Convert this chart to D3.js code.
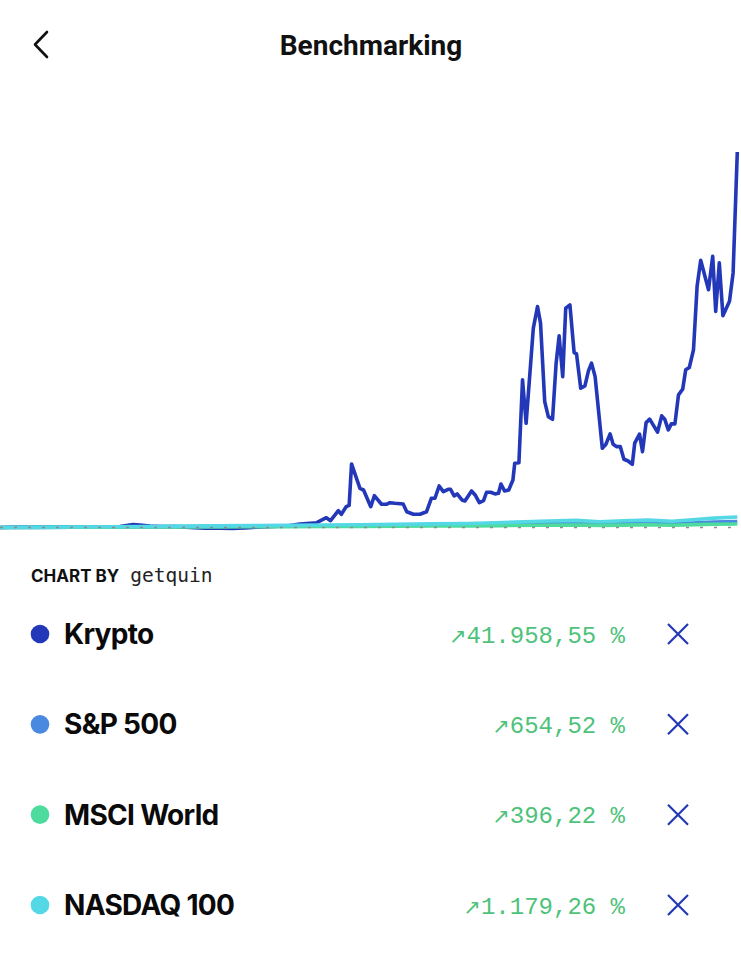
<!DOCTYPE html>
<html>
<head>
<meta charset="utf-8">
<script src="https://cdn.jsdelivr.net/npm/d3@7"></script>
<style>
  html, body { margin: 0; padding: 0; background: #fff; }
  svg { display: block; }
</style>
</head>
<body>
<div id="chartWrap"></div>
<script>
// ---- data (months since start, cumulative return in %) ----
const kryptoMonths = [0, 3.3, 6.7, 10, 13.3, 16.7, 20, 22.2, 23.3, 25, 26.7, 29.2, 31.7, 34.2, 36.7, 38.7, 40.8, 43.3, 45.8, 48.3,
  50, 52.8, 54.4, 55.1, 56.4, 56.9, 57.7, 58.2, 58.6, 60, 60.6, 61.8, 62.4, 63.6, 64.4, 65, 65.8, 67.2, 67.8, 68.9,
  70, 71.1, 71.9, 72.5, 73.2, 73.9, 74.7, 75.1, 75.7, 76.2, 77, 77.5, 78.6, 79.2, 79.9, 80.6, 81.1, 81.8, 82.5, 83.1,
  83.5, 84.1, 84.8, 85.5, 85.8, 86.5, 87.1, 87.7, 88.9, 89.6, 90.1, 90.8, 91.4, 92.1, 92.7, 93.2, 93.8, 94.3, 95, 95.7,
  96.1, 96.8, 97.5, 98.1, 98.6, 99.2, 100.4, 101, 101.7, 102.2, 102.8, 103.4, 104, 104.7, 105.4, 105.8, 106.6, 107.1, 107.7, 108.3,
  109.6, 110.3, 110.8, 111.4, 111.9, 112.5, 113.1, 113.8, 114.3, 114.9, 115.6, 116.2, 116.8, 118.1, 118.8, 119.3, 119.9, 120.5, 121.6, 122.2,
  122.9];
const kryptoPct = [0, 50, 50, 60, 50, 60, 110, 335, 280, 170, 110, 110, 0, -80, -80, -120, -40, 60, 110, 220,
  390, 535, 1095, 760, 1880, 1475, 2325, 2480, 7100, 4380, 4190, 2325, 3555, 2595, 2595, 2775, 2705, 2630, 1765, 1475,
  1475, 1765, 3265, 3265, 4640, 4005, 4270, 4270, 3525, 3750, 3075, 2965, 4085, 3635, 2775, 3000, 3940, 3940, 3750, 3825,
  4865, 4085, 4195, 5315, 7180, 7250, 16495, 11650, 22270, 24685, 22830, 14065, 12390, 12095, 18360, 21410, 16860, 24505, 24875, 19545,
  19400, 15565, 15820, 17530, 18360, 16860, 8855, 9300, 10455, 9300, 9035, 9035, 7625, 7435, 7065, 9420, 10430, 8480, 11725, 12105,
  10650, 12475, 12105, 10905, 11580, 11580, 14825, 15465, 17625, 17880, 19860, 26945, 29855, 26575, 30300, 24150, 29565, 23670, 25270, 28445,
  41958.55];

const indexMonths = [0, 6, 12, 18, 24, 30, 36, 42, 48, 54, 60, 66, 72, 78, 84, 90, 96, 100, 104, 108, 112, 116, 119, 122.9];
const sp500Pct = [0, 15, 40, 60, 75, 100, 120, 140, 160, 180, 195, 230, 260, 290, 350, 420, 470, 390, 450, 490, 420, 520, 600, 654.52];
const msciPct = [0, 10, 25, 40, 50, 65, 75, 85, 95, 110, 120, 140, 160, 180, 215, 255, 285, 240, 270, 300, 250, 320, 365, 396.22];
const nasdaqPct = [0, 20, 60, 90, 110, 150, 180, 210, 240, 280, 300, 360, 400, 450, 560, 700, 800, 640, 760, 820, 700, 900, 1050, 1179.26];

const seriesNames = ['Krypto', 'S&P 500', 'MSCI World', 'NASDAQ 100'];
const seriesColors = ['#2338b8', '#4a89e0', '#4edc9e', '#54d8e6'];
const seriesReturns = ['41.958,55', '654,52', '396,22', '1.179,26'];

// ---- layout ----
const W = 741, H = 960;
const svg = d3.select('#chartWrap').append('svg')
  .attr('width', W).attr('height', H);

// header
svg.append('path')
  .attr('d', d3.line()([[47, 32], [35, 44.5], [47, 57]]))
  .attr('fill', 'none').attr('stroke', '#111').attr('stroke-width', 2.6)
  .attr('stroke-linecap', 'round').attr('stroke-linejoin', 'round');
svg.append('text')
  .attr('x', 371).attr('y', 55)
  .attr('text-anchor', 'middle')
  .style('font-family', 'Roboto, Inter, sans-serif')
  .style('font-weight', 700)
  .style('font-size', '28px')
  .style('fill', '#111')
  .text('Benchmarking');

// scales
const x = d3.scaleLinear().domain([0, 122.9]).range([0, 737.3]);
const y = d3.scaleLinear().domain([0, 41958.55]).range([527.5, 152]);

const line = d3.line()
  .x((d) => x(d[0]))
  .y((d) => y(d[1]))
  .curve(d3.curveLinear);

const seriesData = [
  d3.zip(kryptoMonths, kryptoPct),
  d3.zip(indexMonths, sp500Pct),
  d3.zip(indexMonths, msciPct),
  d3.zip(indexMonths, nasdaqPct),
];

const lines = svg.append('g');
seriesData.forEach((data, i) => {
  lines.append('path')
    .datum(data)
    .attr('d', line)
    .attr('fill', 'none')
    .attr('stroke', seriesColors[i])
    .attr('stroke-width', 3.6)
    .attr('stroke-linejoin', 'round');
});

// zero baseline (dashed)
svg.append('line')
  .attr('x1', x(0)).attr('x2', x(122.9))
  .attr('y1', y(0)).attr('y2', y(0))
  .attr('stroke', '#8c8c8c')
  .attr('stroke-width', 1.5)
  .attr('stroke-dasharray', '3 11');

// credit
const credit = svg.append('text').attr('x', 31).attr('y', 582);
credit.append('tspan')
  .style('font-family', 'Inter, Roboto, sans-serif')
  .style('font-weight', 700)
  .style('font-size', '17px')
  .style('fill', '#111')
  .text('CHART BY');
credit.append('tspan')
  .attr('dx', 11)
  .style('font-family', '"DejaVu Sans Mono", monospace')
  .style('font-size', '19.5px')
  .style('fill', '#222')
  .text('getquin');

// legend rows
const rowY = d3.scalePoint().domain(seriesNames).range([634, 905]);
const rows = svg.append('g').selectAll('g')
  .data(seriesNames)
  .enter()
  .append('g')
  .attr('transform', (d) => `translate(0,${rowY(d)})`);

rows.append('circle')
  .attr('cx', 40).attr('cy', 0).attr('r', 9.3)
  .attr('fill', (d, i) => seriesColors[i]);

rows.append('text')
  .attr('x', 64).attr('y', 0).attr('dy', '0.36em')
  .style('font-family', 'Inter, Roboto, sans-serif')
  .style('font-weight', 700)
  .style('font-size', '28px')
  .style('letter-spacing', '-0.7px')
  .style('fill', '#0a0a0a')
  .text((d) => d);

const pct = rows.append('text')
  .attr('x', 625).attr('y', 0).attr('dy', '0.36em')
  .attr('text-anchor', 'end')
  .style('font-family', '"Liberation Mono", "DejaVu Sans Mono", monospace')
  .style('font-size', '24px')
  .style('fill', '#4ec27a');
pct.append('tspan')
  .style('font-family', '"DejaVu Sans", sans-serif')
  .style('font-size', '21px')
  .text('\u2197');
pct.append('tspan')
  .text((d, i) => `${seriesReturns[i]} %`);

// remove icons
rows.append('path')
  .attr('d', 'M668,-10L688,10M688,-10L668,10')
  .attr('stroke', '#2338b8')
  .attr('stroke-width', 2.2)
  .attr('fill', 'none');
</script>
</body>
</html>
